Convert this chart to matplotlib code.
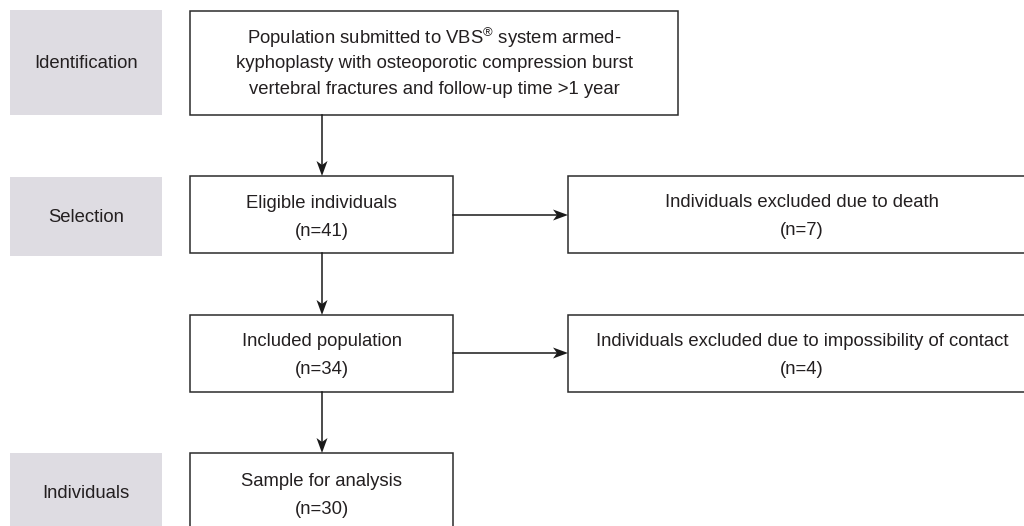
import matplotlib.pyplot as plt
from matplotlib.patches import Rectangle, Polygon

plt.rcParams['font.family'] = ['Liberation Sans', 'DejaVu Sans']
plt.rcParams['mathtext.fontset'] = 'custom'
plt.rcParams['mathtext.rm'] = 'Liberation Sans'

# stage labels (grey boxes on the left)
stages = ["Identification", "Selection", "Individuals"]

# main flow boxes
main_labels = ["Eligible individuals", "Included population", "Sample for analysis"]
main_n = [41, 34, 30]

# exclusion boxes
excl_labels = ["Individuals excluded due to death",
               "Individuals excluded due to impossibility of contact"]
excl_n = [7, 4]

top_lines = ["Population submitted to VBS$^{\\mathrm{®}}$ system armed-",
             "kyphoplasty with osteoporotic compression burst",
             "vertebral fractures and follow-up time >1 year"]

grey = "#dedce2"
edge = "#2b2b2b"
txt = "#231f20"
fs = 13.3

fig = plt.figure(figsize=(10.24, 5.26), dpi=100)
ax = fig.add_axes([0, 0, 1, 1])
ax.set_xlim(0, 1024)
ax.set_ylim(526, 0)
ax.axis("off")


def box(x0, y0, x1, y1, fill=False):
    if fill:
        ax.add_patch(Rectangle((x0, y0), x1 - x0, y1 - y0, facecolor=grey, edgecolor="none"))
    else:
        ax.add_patch(Rectangle((x0, y0), x1 - x0, y1 - y0, facecolor="white",
                               edgecolor=edge, lw=1.1))


def lines(cx, ys, texts):
    for y, t in zip(ys, texts):
        ax.text(cx, y, t, ha="center", va="center", fontsize=fs, color=txt)


def arrow(p0, p1, hl=15, hw=5.5, notch=4):
    (x0, y0), (x1, y1) = p0, p1
    d = ((x1 - x0) ** 2 + (y1 - y0) ** 2) ** 0.5
    ux, uy = (x1 - x0) / d, (y1 - y0) / d
    px, py = -uy, ux
    bx, by = x1 - ux * hl, y1 - uy * hl
    ax.plot([x0, bx + ux * notch], [y0, by + uy * notch], color="#1a1a1a", lw=1.1)
    ax.add_patch(Polygon([(x1, y1), (bx + px * hw, by + py * hw),
                          (bx + ux * notch, by + uy * notch),
                          (bx - px * hw, by - py * hw)],
                         closed=True, facecolor="#1a1a1a", edgecolor="none"))


# grey stage boxes
stage_y = [(10, 115), (177, 256), (453, 540)]
stage_mid = [63, 217, 494]
for s, (y0, y1), m in zip(stages, stage_y, stage_mid):
    box(10, y0, 162, y1, fill=True)
    ax.text(86, m, s, ha="center", va="center", fontsize=fs, color=txt)

# top box
box(190, 11, 678, 115)
lines(434, [38, 64, 90], top_lines)

# main column
main_y = [(176, 253), (315, 392), (453, 540)]
main_mid = [217, 355, 495]
for lab, n, (y0, y1), m in zip(main_labels, main_n, main_y, main_mid):
    box(190, y0, 453, y1)
    lines(321.5, [m - 14, m + 14], [lab, "(n=%d)" % n])

# exclusion boxes
excl_y = [(176, 253), (315, 392)]
for lab, n, (y0, y1) in zip(excl_labels, excl_n, excl_y):
    box(568, y0, 1040, y1)
    mid = (y0 + y1) / 2 + 2
    lines(802, [mid - 14, mid + 14], [lab, "(n=%d)" % n])

# arrows
arrow((322, 115), (322, 176))
arrow((322, 253), (322, 315))
arrow((322, 392), (322, 453))
arrow((453, 215), (568, 215))
arrow((453, 353), (568, 353))

fig.savefig("out.png", dpi=100)
